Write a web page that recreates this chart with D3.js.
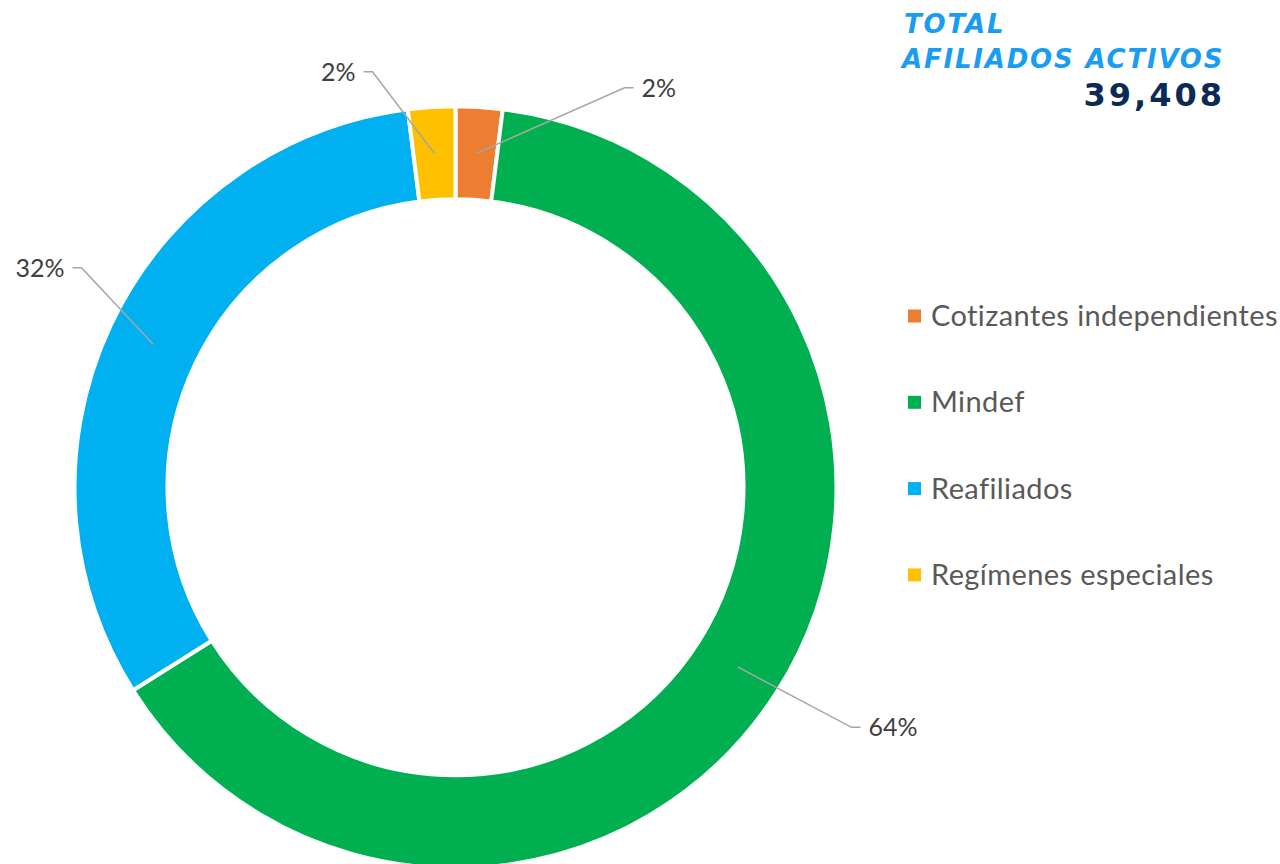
<!DOCTYPE html>
<html lang="es">
<head>
    <meta charset="UTF-8">
    <title>Total afiliados activos</title>
    <script src="https://d3js.org/d3.v7.min.js"></script>
    <style>
        body { margin: 0; background: #fff; }
        svg { display: block; }
        .pct { font-family: Lato, "Open Sans", sans-serif; font-size: 25px; fill: #404040; }
        .legend text { font-family: Lato, "Open Sans", sans-serif; font-size: 29px; letter-spacing: 0.4px; fill: #595959; }
        .leader { fill: none; stroke: #a6a6a6; stroke-width: 1.5; }
    </style>
</head>
<body>
<div id="chart"></div>
<script>
    // datos
    const categorias = ["Cotizantes independientes", "Mindef", "Reafiliados", "Regímenes especiales"];
    const afiliados = [780, 25253, 12587, 788];
    const colores = ["#ED7D31", "#00B050", "#00B0F0", "#FFC000"];
    const totalTexto = "39,408";

    const width = 1280, height = 864;
    const cx = 455.5, cy = 487.3;
    const rOut = 381, rIn = 288;

    // donde termina cada línea guía (relativo al centro) y lado del texto
    const labelPos = [
        { x: 178, y: -399.5, side: "right" },
        { x: 405, y: 240, side: "right" },
        { x: -383, y: -219.5, side: "left" },
        { x: -92, y: -415.5, side: "left" }
    ];

    const svg = d3.select("#chart").append("svg")
        .attr("width", width)
        .attr("height", height);

    const g = svg.append("g").attr("transform", `translate(${cx},${cy})`);

    const pie = d3.pie().sort(null).value(d => d.value);
    const data = categorias.map((c, i) => ({ name: c, value: afiliados[i], color: colores[i] }));
    const arcs = pie(data);
    const total = d3.sum(afiliados);

    const arc = d3.arc().innerRadius(rIn).outerRadius(rOut);
    const midArc = d3.arc().innerRadius((rIn + rOut) / 2).outerRadius((rIn + rOut) / 2);

    g.selectAll("path.slice")
        .data(arcs)
        .enter()
        .append("path")
        .attr("class", "slice")
        .attr("d", arc)
        .attr("fill", d => d.data.color)
        .attr("stroke", "#fff")
        .attr("stroke-width", 4);

    // etiquetas con línea guía
    arcs.forEach((d, i) => {
        const p0 = midArc.centroid(d);
        const lp = labelPos[i];
        const dir = lp.side === "right" ? 1 : -1;
        const elbow = [lp.x - dir * 9, lp.y];
        g.append("polyline")
            .attr("class", "leader")
            .attr("points", [p0, elbow, [lp.x, lp.y]].map(p => p.join(",")).join(" "));
        g.append("text")
            .attr("class", "pct")
            .attr("x", lp.x + dir * 8)
            .attr("y", lp.y)
            .attr("dy", "0.35em")
            .attr("text-anchor", lp.side === "right" ? "start" : "end")
            .text(d3.format(".0%")(d.data.value / total));
    });

    // leyenda
    const legend = svg.append("g").attr("class", "legend")
        .attr("transform", "translate(908,316)");
    const item = legend.selectAll("g")
        .data(data)
        .enter()
        .append("g")
        .attr("transform", (d, i) => `translate(0,${i * 86.3})`);
    item.append("rect")
        .attr("x", 0).attr("y", -6.5)
        .attr("width", 13).attr("height", 13)
        .attr("fill", d => d.color);
    item.append("text")
        .attr("x", 23)
        .attr("y", 10)
        .text(d => d.name);

    // título
    const title = svg.append("g")
        .style("font-family", "'DejaVu Sans', sans-serif");
    title.append("text")
        .attr("x", 904).attr("y", 33)
        .attr("font-size", 26).attr("font-weight", 700).attr("font-style", "italic")
        .attr("letter-spacing", 1.8)
        .attr("fill", "#1a9cf2")
        .text("TOTAL");
    title.append("text")
        .attr("x", 902).attr("y", 68)
        .attr("font-size", 26).attr("font-weight", 700).attr("font-style", "italic")
        .attr("letter-spacing", 1.8)
        .attr("fill", "#1a9cf2")
        .text("AFILIADOS ACTIVOS");
    title.append("text")
        .attr("x", 1225).attr("y", 106)
        .attr("font-size", 32).attr("font-weight", 700)
        .attr("letter-spacing", 3)
        .attr("text-anchor", "end")
        .attr("fill", "#0b2a55")
        .text(totalTexto);
</script>
</body>
</html>
